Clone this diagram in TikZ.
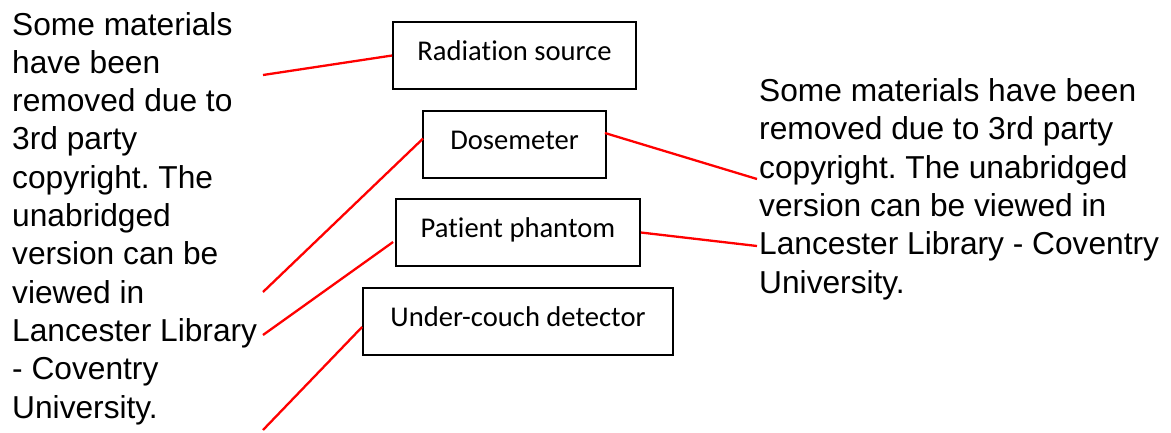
\documentclass[tikz,border=0pt]{standalone}
\usepackage{fontspec}
\setmainfont{Liberation Sans}
\newfontfamily\boxfont[Ligatures=NoCommon]{Carlito}
\usetikzlibrary{calc}
\frenchspacing
\begin{document}
\begin{tikzpicture}[x=1pt,y=-1pt,
  part/.style={draw=black,line width=1.8pt,rectangle,inner sep=0pt,
    minimum height=67pt,font=\boxfont\fontsize{28.6}{34}\selectfont,
    text height=18pt,text depth=8pt},
  leader/.style={draw=red,line width=2.3pt},
  note/.style={inner sep=0pt,align=left,font=\fontsize{31.7}{38.3}\selectfont}]
\useasboundingbox (0,0) rectangle (1171,432);

% labelled parts
\node[part,minimum width=243pt] (rad)  at (514.5,55.5)  {Radiation source};
\node[part,minimum width=183pt] (dose) at (514.5,144.5) {Dosemeter};
\node[part,minimum width=244pt] (pat)  at (518,232.5)   {Patient phantom};
\node[part,minimum width=310pt] (cdet) at (518,321.5)   {Under-couch detector};

% notes (anchored at the baseline of their last line)
\node[note,anchor=base west] (lnote) at (12,418) {Some materials\\have been\\removed due to\\3rd party\\copyright. The\\unabridged\\version can be\\viewed in\\Lancester Library\\- Coventry\\University.};
\node[note,anchor=base west] (rnote) at (759,293) {Some materials have been\\removed due to 3rd party\\copyright. The unabridged\\version can be viewed in\\Lancester Library - Coventry\\University.};

% free ends of the leader lines
\coordinate (l1) at (263,75);
\coordinate (l2) at (263,292);
\coordinate (l3) at (263,335);
\coordinate (l4) at (263,430);
\coordinate (r1) at (757,179);
\coordinate (r2) at (757,246);

% leader lines
\draw[leader] (l1) -- (rad.west);
\draw[leader] (l2) -- ($(dose.west)+(1,-6)$);
\draw[leader] (l3) -- ($(pat.west)+(-2,9.5)$);
\draw[leader] (l4) -- ($(cdet.west)+(0,5.5)$);
\draw[leader] ($(dose.east)+(-2,-11.5)$) -- (r1);
\draw[leader] (pat.east) -- (r2);
\end{tikzpicture}
\end{document}
